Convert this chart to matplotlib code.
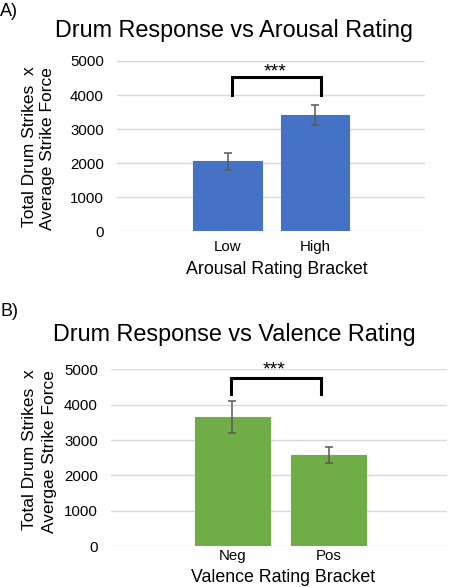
import numpy as np
import matplotlib.pyplot as plt

plt.rcParams["font.family"] = ["Liberation Sans", "DejaVu Sans"]

# panel A: arousal
arousal_labels = ["Low", "High"]
arousal_means = [2050, 3410]
arousal_err = [240, 285]

# panel B: valence
valence_labels = ["Neg", "Pos"]
valence_means = [3660, 2580]
valence_err = [455, 218]

W, H = 451, 587
fig = plt.figure(figsize=(W / 100, H / 100), dpi=100)


def px(x, y):
    """pixel position (from top-left) -> figure fraction"""
    return x / W, 1 - y / H


def panel(rect, labels, means, errs, color, xlim, bracket, tick_pad):
    ax = fig.add_axes(rect)
    x = np.arange(len(labels))
    ax.bar(x, means, width=0.78, color=color, edgecolor=color, linewidth=0.8, zorder=3)
    ax.errorbar(x, means, yerr=errs, fmt="none", ecolor="#595959",
                elinewidth=1.1, capsize=2.8, capthick=1.1, zorder=4)
    ax.set_xlim(*xlim)
    ax.set_ylim(0, 5000)
    ax.set_yticks(np.arange(0, 5001, 1000))
    ax.set_xticks(x)
    ax.set_xticklabels(labels)
    ax.tick_params(axis="both", length=0, labelsize=10.8, colors="black")
    ax.tick_params(axis="x", pad=tick_pad)
    ax.tick_params(axis="y", pad=9.5)
    ax.grid(axis="y", color="#D9D9D9", linewidth=1.0, zorder=0)
    for s in ax.spines.values():
        s.set_visible(False)
    # significance bracket
    (xl, xr), (yl, yr), ytop, ystar = bracket
    ax.plot([xl, xl, xr, xr], [yl, ytop, ytop, yr], color="black",
            linewidth=2.2, solid_joinstyle="miter", clip_on=False, zorder=5)
    ax.text((xl + xr) / 2 - 0.02, ystar, "***", ha="center", va="center",
            fontsize=14, clip_on=False)
    return ax


# A)
axA = panel([117 / W, 1 - 231.3 / H, 308 / W, 170.3 / H],
            arousal_labels, arousal_means, arousal_err, "#4472C4",
            (-1.263, 2.257), ((0.05, 1.07), (4000, 4000), 4520, 4680), 6)
fig.text(*px(0, 12), "A)", fontsize=13, ha="left", va="center")
fig.text(*px(234, 30), "Drum Response vs Arousal Rating", fontsize=16.8,
         ha="center", va="center")
fig.text(*px(30, 147), "Total Drum Strikes  x", fontsize=12.5, rotation=90,
         ha="center", va="center")
fig.text(*px(48, 149), "Average Strike Force", fontsize=12.5, rotation=90,
         ha="center", va="center")
fig.text(*px(277, 270), "Arousal Rating Bracket", fontsize=12.8,
         ha="center", va="center")

# B)
axB = panel([111 / W, 1 - 546.3 / H, 336 / W, 177 / H],
            valence_labels, valence_means, valence_err, "#70AD47",
            (-1.255, 2.225), ((-0.01, 0.92), (4290, 4290), 4760, 4990), 2)
fig.text(*px(0, 312), "B)", fontsize=13, ha="left", va="center")
fig.text(*px(234, 335), "Drum Response vs Valence Rating", fontsize=16.8,
         ha="center", va="center")
fig.text(*px(30, 450), "Total Drum Strikes  x", fontsize=12.5, rotation=90,
         ha="center", va="center")
fig.text(*px(50, 452), "Avergae Strike Force", fontsize=12.5, rotation=90,
         ha="center", va="center")
fig.text(*px(283, 578), "Valence Rating Bracket", fontsize=12.8,
         ha="center", va="center")

fig.savefig("out.png", dpi=100)
